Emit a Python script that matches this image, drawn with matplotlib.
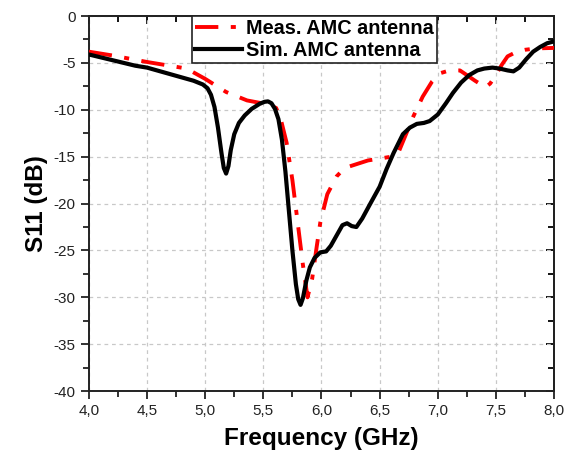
import matplotlib
matplotlib.use("Agg")
import matplotlib.pyplot as plt
from matplotlib.ticker import MultipleLocator, FuncFormatter

plt.rcParams['font.family'] = ['Liberation Sans', 'DejaVu Sans']

# Simulated S11 (black solid)
sim_f = [4.00, 4.20, 4.40, 4.50, 4.70, 4.90, 4.98, 5.02, 5.05, 5.08, 5.11, 5.14,
         5.16, 5.18, 5.20, 5.22, 5.25, 5.29, 5.34, 5.40, 5.47, 5.51, 5.54, 5.57,
         5.60, 5.63, 5.66, 5.69, 5.72, 5.75, 5.78, 5.80, 5.82, 5.84, 5.87, 5.90,
         5.94, 5.99, 6.04, 6.08, 6.13, 6.18, 6.22, 6.26, 6.30, 6.35, 6.42, 6.50,
         6.56, 6.62, 6.70, 6.76, 6.82, 6.88, 6.93, 7.00, 7.07, 7.13, 7.20, 7.27,
         7.34, 7.40, 7.47, 7.53, 7.60, 7.65, 7.70, 7.76, 7.82, 7.88, 7.94, 8.00]
sim_db = [-4.1, -4.7, -5.3, -5.5, -6.2, -6.9, -7.3, -7.7, -8.4, -9.7, -11.9, -14.6,
          -16.2, -16.8, -16.0, -14.3, -12.6, -11.4, -10.6, -9.9, -9.35, -9.15, -9.1, -9.3,
          -9.9, -11.0, -13.2, -16.6, -20.8, -25.0, -28.6, -30.2, -30.8, -30.1, -28.2, -26.8,
          -25.8, -25.2, -25.1, -24.5, -23.4, -22.3, -22.1, -22.4, -22.5, -21.6, -20.0, -18.2,
          -16.3, -14.6, -12.6, -11.9, -11.5, -11.4, -11.2, -10.5, -9.3, -8.2, -7.1, -6.3,
          -5.8, -5.6, -5.5, -5.6, -5.8, -5.9, -5.5, -4.6, -3.8, -3.3, -2.9, -2.7]

# Measured S11 (red dash-dot)
meas_f = [4.00, 4.20, 4.50, 4.84, 5.00, 5.18, 5.36, 5.53, 5.61, 5.65, 5.70, 5.75,
          5.80, 5.84, 5.88, 5.92, 5.96, 5.99, 6.05, 6.13, 6.20, 6.40, 6.60, 6.66,
          6.72, 6.79, 6.87, 6.95, 7.02, 7.10, 7.19, 7.25, 7.32, 7.41, 7.45, 7.50,
          7.55, 7.60, 7.68, 7.75, 7.85, 8.00]
meas_db = [-3.8, -4.2, -4.9, -5.6, -6.7, -8.1, -9.0, -9.4, -9.8, -11.0, -13.5, -17.5,
           -22.5, -26.5, -30.0, -28.0, -24.5, -22.0, -19.0, -17.1, -16.2, -15.4, -15.0, -14.6,
           -12.8, -10.7, -8.6, -7.0, -6.1, -5.8, -5.8, -6.3, -6.9, -7.6, -7.2, -6.3,
           -5.2, -4.3, -3.8, -3.6, -3.45, -3.4]

fig = plt.figure(figsize=(5.66, 4.58), dpi=100)
ax = fig.add_axes([0.157, 0.146, 0.822, 0.819])

ax.plot(meas_f, meas_db, color='#ff0000', lw=2.8,
        linestyle=(0, (6.0, 3.2, 1.3, 3.2)),
        label='Meas. AMC antenna', zorder=3)
ax.plot(sim_f, sim_db, color='black', lw=3.0, solid_joinstyle='round',
        label='Sim. AMC antenna', zorder=4)

ax.set_xlim(4, 8)
ax.set_ylim(-40, 0)
ax.xaxis.set_major_locator(MultipleLocator(0.5))
ax.xaxis.set_minor_locator(MultipleLocator(0.25))
ax.yaxis.set_major_locator(MultipleLocator(5))
ax.yaxis.set_minor_locator(MultipleLocator(2.5))
ax.xaxis.set_major_formatter(FuncFormatter(lambda v, p: f"{v:.1f}".replace('.', ',')))
ax.yaxis.set_major_formatter(FuncFormatter(lambda v, p: f"{v:.0f}"))

ax.grid(True, which='major', color='#c8c8c8', linestyle=(0, (3, 3)), lw=0.9)
ax.set_axisbelow(True)

for s in ax.spines.values():
    s.set_linewidth(1.4)
    s.set_color('#222222')

ax.tick_params(which='both', direction='out', width=1.3, colors='#222222',
               labelsize=11, labelcolor='#222222')
ax.tick_params(which='major', length=6)
ax.tick_params(which='minor', length=4)

# inward ticks on top and right, no labels
top = ax.secondary_xaxis('top')
top.xaxis.set_major_locator(MultipleLocator(0.5))
top.xaxis.set_minor_locator(MultipleLocator(0.25))
top.tick_params(which='both', direction='in', width=1.3, labeltop=False)
top.tick_params(which='major', length=6)
top.tick_params(which='minor', length=4)
right = ax.secondary_yaxis('right')
right.yaxis.set_major_locator(MultipleLocator(5))
right.yaxis.set_minor_locator(MultipleLocator(2.5))
right.tick_params(which='both', direction='in', width=1.3, labelright=False)
right.tick_params(which='major', length=6)
right.tick_params(which='minor', length=4)
for sax in (top, right):
    for s in sax.spines.values():
        s.set_linewidth(1.4)
        s.set_color('#222222')

ax.set_xlabel('Frequency (GHz)', fontsize=17.5, fontweight='bold', labelpad=6)
ax.set_ylabel('S11 (dB)', fontsize=17.5, fontweight='bold', labelpad=4)

leg = ax.legend(loc='upper left', bbox_to_anchor=(0.221, 1.0),
                prop={'weight': 'bold', 'size': 14.3}, frameon=True, fancybox=False,
                edgecolor='#222222', framealpha=1, borderpad=0.15, borderaxespad=0,
                handlelength=2.4, handletextpad=0.2, labelspacing=0.15)
leg.get_frame().set_linewidth(1.2)

fig.savefig('out.png', dpi=100)
